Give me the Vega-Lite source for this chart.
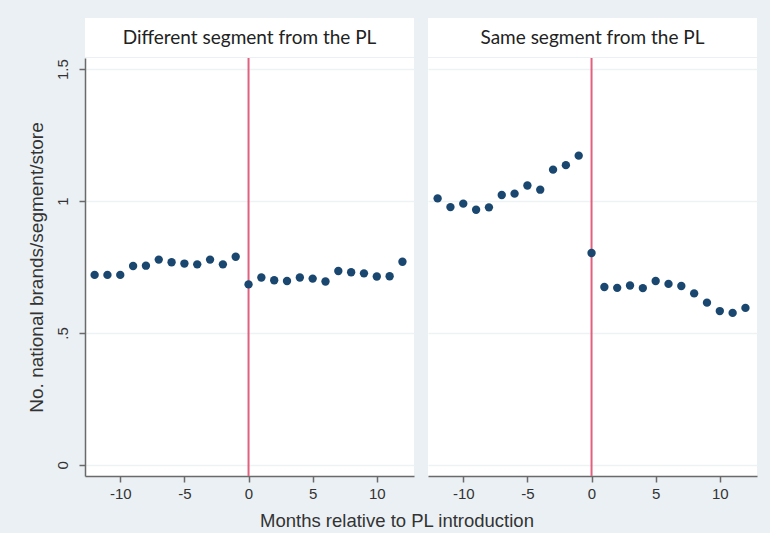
{
  "$schema": "https://vega.github.io/schema/vega-lite/v6.json",
  "background": "#EAF0F3",
  "padding": {"left": 27, "top": 18, "right": 13, "bottom": 2},
  "datasets": {
    "pts": [
      {"segment": "Different segment from the PL", "month": -12, "value": 0.720},
      {"segment": "Different segment from the PL", "month": -11, "value": 0.720},
      {"segment": "Different segment from the PL", "month": -10, "value": 0.720},
      {"segment": "Different segment from the PL", "month": -9, "value": 0.754},
      {"segment": "Different segment from the PL", "month": -8, "value": 0.755},
      {"segment": "Different segment from the PL", "month": -7, "value": 0.778},
      {"segment": "Different segment from the PL", "month": -6, "value": 0.768},
      {"segment": "Different segment from the PL", "month": -5, "value": 0.763},
      {"segment": "Different segment from the PL", "month": -4, "value": 0.760},
      {"segment": "Different segment from the PL", "month": -3, "value": 0.778},
      {"segment": "Different segment from the PL", "month": -2, "value": 0.760},
      {"segment": "Different segment from the PL", "month": -1, "value": 0.789},
      {"segment": "Different segment from the PL", "month": 0, "value": 0.684},
      {"segment": "Different segment from the PL", "month": 1, "value": 0.710},
      {"segment": "Different segment from the PL", "month": 2, "value": 0.700},
      {"segment": "Different segment from the PL", "month": 3, "value": 0.697},
      {"segment": "Different segment from the PL", "month": 4, "value": 0.710},
      {"segment": "Different segment from the PL", "month": 5, "value": 0.706},
      {"segment": "Different segment from the PL", "month": 6, "value": 0.695},
      {"segment": "Different segment from the PL", "month": 7, "value": 0.735},
      {"segment": "Different segment from the PL", "month": 8, "value": 0.730},
      {"segment": "Different segment from the PL", "month": 9, "value": 0.726},
      {"segment": "Different segment from the PL", "month": 10, "value": 0.714},
      {"segment": "Different segment from the PL", "month": 11, "value": 0.715},
      {"segment": "Different segment from the PL", "month": 12, "value": 0.770},
      {"segment": "Same segment from the PL", "month": -12, "value": 1.010},
      {"segment": "Same segment from the PL", "month": -11, "value": 0.977},
      {"segment": "Same segment from the PL", "month": -10, "value": 0.990},
      {"segment": "Same segment from the PL", "month": -9, "value": 0.967},
      {"segment": "Same segment from the PL", "month": -8, "value": 0.976},
      {"segment": "Same segment from the PL", "month": -7, "value": 1.023},
      {"segment": "Same segment from the PL", "month": -6, "value": 1.028},
      {"segment": "Same segment from the PL", "month": -5, "value": 1.059},
      {"segment": "Same segment from the PL", "month": -4, "value": 1.043},
      {"segment": "Same segment from the PL", "month": -3, "value": 1.119},
      {"segment": "Same segment from the PL", "month": -2, "value": 1.136},
      {"segment": "Same segment from the PL", "month": -1, "value": 1.172},
      {"segment": "Same segment from the PL", "month": 0, "value": 0.803},
      {"segment": "Same segment from the PL", "month": 1, "value": 0.674},
      {"segment": "Same segment from the PL", "month": 2, "value": 0.671},
      {"segment": "Same segment from the PL", "month": 3, "value": 0.680},
      {"segment": "Same segment from the PL", "month": 4, "value": 0.670},
      {"segment": "Same segment from the PL", "month": 5, "value": 0.697},
      {"segment": "Same segment from the PL", "month": 6, "value": 0.686},
      {"segment": "Same segment from the PL", "month": 7, "value": 0.678},
      {"segment": "Same segment from the PL", "month": 8, "value": 0.650},
      {"segment": "Same segment from the PL", "month": 9, "value": 0.615},
      {"segment": "Same segment from the PL", "month": 10, "value": 0.583},
      {"segment": "Same segment from the PL", "month": 11, "value": 0.576},
      {"segment": "Same segment from the PL", "month": 12, "value": 0.595}
    ],
    "pl": [{"month": 0}]
  },
  "config": {
    "view": {"stroke": null},
    "axis": {
      "labelFont": "Liberation Sans",
      "titleFont": "Liberation Sans",
      "labelColor": "#333333",
      "titleColor": "#333333",
      "labelFontSize": 15,
      "titleFontSize": 19,
      "titleFontWeight": "normal",
      "domainColor": "#6A6A6A",
      "tickColor": "#6A6A6A",
      "domainWidth": 1.5,
      "tickWidth": 1.5,
      "tickSize": 6,
      "gridColor": "#EDF2F4",
      "gridWidth": 1.5
    }
  },
  "bounds": "flush",
  "columns": 2,
  "spacing": {"row": 1, "column": 14},
  "concat": [
    {
      "width": 329,
      "height": 39,
      "view": {"fill": "white", "stroke": null},
      "data": {"values": [{"panel": "Different segment from the PL"}]},
      "mark": {"type": "text", "font": "Lato", "fontSize": 19, "color": "#222222"},
      "encoding": {"text": {"field": "panel", "type": "nominal"}}
    },
    {
      "width": 329,
      "height": 39,
      "view": {"fill": "white", "stroke": null},
      "data": {"values": [{"panel": "Same segment from the PL"}]},
      "mark": {"type": "text", "font": "Lato", "fontSize": 19, "color": "#222222"},
      "encoding": {"text": {"field": "panel", "type": "nominal"}}
    },
    {
      "width": 329,
      "height": 418,
      "view": {"fill": "white", "stroke": null},
      "layer": [
        {
          "data": {"name": "pl"},
          "mark": {"type": "rule", "color": "#E0607E", "strokeWidth": 2},
          "encoding": {
            "x": {"field": "month", "type": "quantitative", "scale": {"domain": [-12.75, 12.9], "nice": false, "zero": false}}
          }
        },
        {
          "data": {"name": "pts"},
          "transform": [{"filter": "datum.segment == 'Different segment from the PL'"}],
          "mark": {"type": "circle", "size": 70, "color": "#1A476F", "opacity": 1},
          "encoding": {
            "x": {
              "field": "month", "type": "quantitative",
              "scale": {"domain": [-12.75, 12.9], "nice": false, "zero": false},
              "axis": {"values": [-10, -5, 0, 5, 10], "title": null, "grid": false, "labelPadding": 4, "labelExpr": "toString(datum.value)"}
            },
            "y": {
              "field": "value", "type": "quantitative",
              "scale": {"domain": [-0.042, 1.542], "nice": false, "zero": false},
              "axis": {
                "values": [0, 0.5, 1, 1.5],
                "title": "No. national brands/segment/store",
                "labelAngle": -90,
                "labelPadding": 9,
                "titlePadding": 9,
                "labelExpr": "datum.value == 0.5 ? '.5' : toString(datum.value)",
                "grid": true
              }
            }
          }
        }
      ]
    },
    {
      "width": 329,
      "height": 418,
      "view": {"fill": "white", "stroke": null},
      "layer": [
        {
          "data": {"name": "pl"},
          "mark": {"type": "rule", "color": "#E0607E", "strokeWidth": 2},
          "encoding": {
            "x": {"field": "month", "type": "quantitative", "scale": {"domain": [-12.75, 12.9], "nice": false, "zero": false}}
          }
        },
        {
          "data": {"name": "pts"},
          "transform": [{"filter": "datum.segment == 'Same segment from the PL'"}],
          "mark": {"type": "circle", "size": 70, "color": "#1A476F", "opacity": 1},
          "encoding": {
            "x": {
              "field": "month", "type": "quantitative",
              "scale": {"domain": [-12.75, 12.9], "nice": false, "zero": false},
              "axis": {"values": [-10, -5, 0, 5, 10], "title": null, "grid": false, "labelPadding": 4, "labelExpr": "toString(datum.value)"}
            },
            "y": {
              "field": "value", "type": "quantitative",
              "scale": {"domain": [-0.042, 1.542], "nice": false, "zero": false},
              "axis": {"values": [0, 0.5, 1, 1.5], "title": null, "labels": false, "ticks": false, "domain": false, "grid": true}
            }
          }
        }
      ]
    },
    {
      "width": 329,
      "height": 20,
      "data": {"values": [{"caption": "Months relative to PL introduction"}]},
      "mark": {"type": "text", "font": "Liberation Sans", "fontSize": 18.5, "color": "#333333", "dx": 147.5, "dy": 34},
      "encoding": {"text": {"field": "caption", "type": "nominal"}}
    }
  ]
}
